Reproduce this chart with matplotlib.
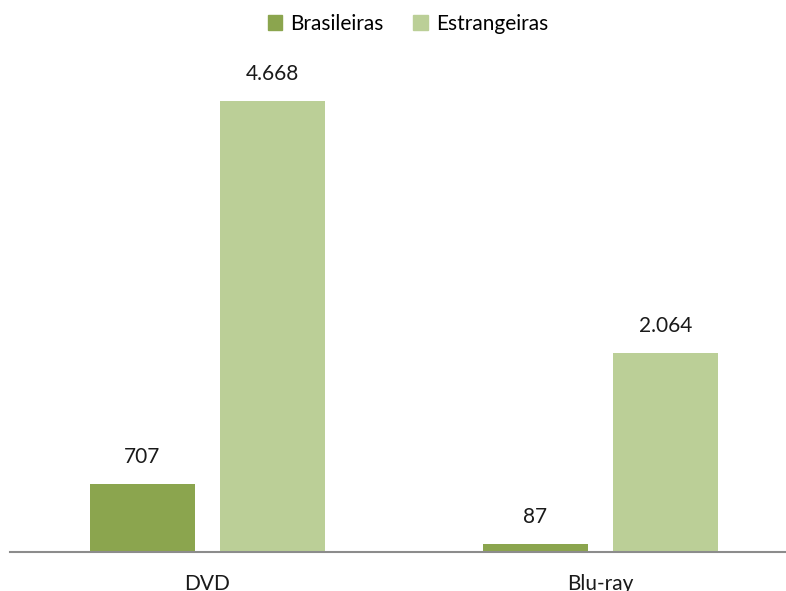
import matplotlib.pyplot as plt
import numpy as np
from matplotlib.patches import Patch

categories = ['DVD', 'Blu-ray']
brasileiras = [707, 87]
estrangeiras = [4668, 2064]
labels = ['Brasileiras', 'Estrangeiras']

plt.rcParams['font.family'] = ['Lato', 'DejaVu Sans']

fig = plt.figure(figsize=(7.86, 5.91), dpi=100)
ax = fig.add_axes([10 / 786, (591 - 552) / 591, 776 / 786, 552 / 591])

x = np.arange(len(categories))
w = 0.267
b1 = ax.bar(x - 0.165, brasileiras, w, color='#8BA54E')
b2 = ax.bar(x + 0.166, estrangeiras, w, color='#BBCF97')

for bars in (b1, b2):
    for bar in bars:
        v = bar.get_height()
        txt = f'{v:,}'.replace(',', '.')
        ax.text(bar.get_x() + bar.get_width() / 2, v + 170, txt,
                ha='center', va='bottom', fontsize=15, color='#1a1a1a')

ax.set_xlim(-0.501, 1.473)
ax.set_ylim(0, 5712)
ax.set_yticks([])
ax.set_xticks(x)
ax.set_xticklabels(categories, fontsize=15, color='#1a1a1a')
ax.tick_params(axis='x', length=0, pad=16)
for s in ['top', 'right', 'left']:
    ax.spines[s].set_visible(False)
ax.spines['bottom'].set_color('#8c8c8c')
ax.spines['bottom'].set_linewidth(1.5)

handles = [Patch(color='#8BA54E'), Patch(color='#BBCF97')]
fig.legend(handles, labels, loc='center', bbox_to_anchor=(408 / 786, 1 - 24 / 591),
           ncol=2, frameon=False, fontsize=15, handlelength=0.7, handleheight=0.7,
           handletextpad=0.4, columnspacing=1.4)

fig.savefig('out.png', dpi=100)
